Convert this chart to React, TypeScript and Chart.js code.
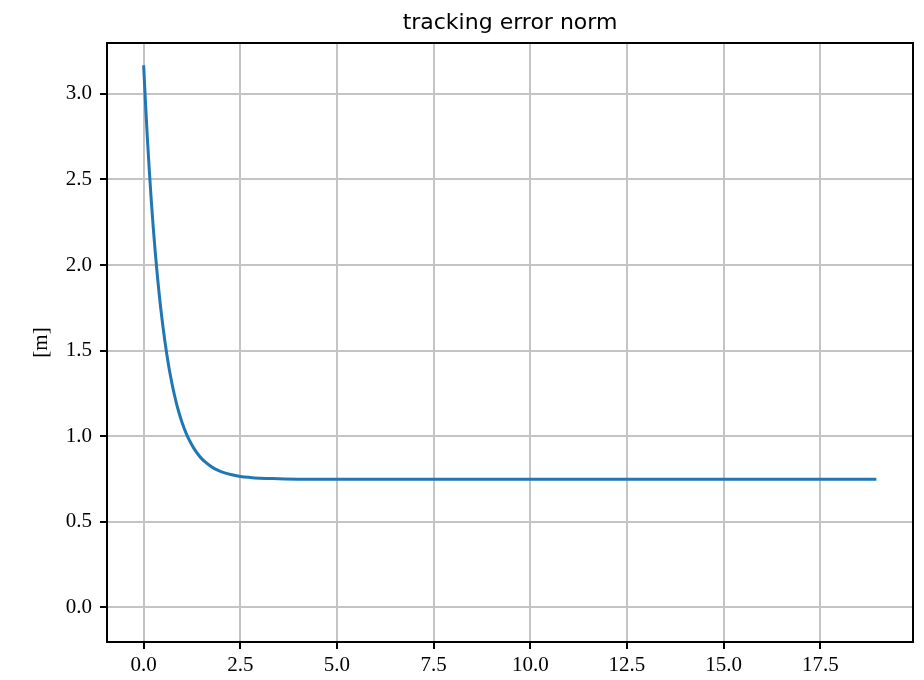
import React, { useEffect, useRef } from "react";
import { Chart, registerables } from "chart.js";

Chart.register(...registerables);

const TIME = [0, 0.05, 0.1, 0.15, 0.2, 0.25, 0.3, 0.35, 0.4, 0.45, 0.5, 0.55, 0.6, 0.65, 0.7, 0.75, 0.8, 0.85, 0.9, 0.95, 1.0, 1.1, 1.2, 1.3, 1.4, 1.5, 1.6, 1.7, 1.8, 1.9, 2.0, 2.25, 2.5, 2.75, 3.0, 3.25, 3.5, 4.0, 6.0, 10.0, 14.0, 18.95];
const ERROR_NORM = [3.168, 2.938, 2.729, 2.541, 2.37, 2.216, 2.076, 1.95, 1.835, 1.732, 1.638, 1.554, 1.477, 1.407, 1.345, 1.288, 1.237, 1.19, 1.148, 1.11, 1.075, 1.016, 0.968, 0.928, 0.895, 0.868, 0.847, 0.829, 0.814, 0.802, 0.792, 0.775, 0.764, 0.758, 0.754, 0.752, 0.75, 0.748, 0.748, 0.748, 0.748, 0.748];
const X_TICKS = [0, 2.5, 5, 7.5, 10, 12.5, 15, 17.5];
const Y_TICKS = [0, 0.5, 1, 1.5, 2, 2.5, 3];
const TITLE = "tracking error norm";
const Y_LABEL = "[m]";

const frame = {
  id: "frame",
  afterDraw(chart: any) {
    const { ctx, chartArea } = chart;
    ctx.save();
    ctx.strokeStyle = "#000";
    ctx.lineWidth = 2;
    ctx.strokeRect(chartArea.left, chartArea.top, chartArea.right - chartArea.left, chartArea.bottom - chartArea.top);
    ctx.fillStyle = "#000";
    ctx.font = "22px 'DejaVu Sans', sans-serif";
    ctx.textAlign = "center";
    ctx.textBaseline = "alphabetic";
    ctx.fillText(TITLE, (chartArea.left + chartArea.right) / 2, chartArea.top - 14);
    ctx.restore();
  },
};

export default function App() {
  const ref = useRef<HTMLCanvasElement | null>(null);
  useEffect(() => {
    if (!ref.current) return;
    const serif = "'Liberation Serif', 'DejaVu Serif', serif";
    const chart = new Chart(ref.current, {
      type: "scatter",
      data: {
        datasets: [
          {
            data: TIME.map((t, i) => ({ x: t, y: ERROR_NORM[i] })),
            showLine: true,
            borderColor: "#1f77b4",
            backgroundColor: "#1f77b4",
            borderWidth: 3,
            pointRadius: 0,
            cubicInterpolationMode: "monotone",
          },
        ],
      },
      options: {
        responsive: false,
        animation: false,
        layout: { padding: { left: 0, right: 11, top: 43, bottom: 0 } },
        plugins: {
          legend: { display: false },
          tooltip: { enabled: false },
          title: { display: false },
        },
        scales: {
          x: {
            type: "linear",
            min: -0.9475,
            max: 19.8975,
            afterBuildTicks: (axis: any) => {
              axis.ticks = X_TICKS.map((v) => ({ value: v }));
            },
            afterFit: (axis: any) => {
              axis.height = 38;
            },
            grid: { color: "#c4c4c4", lineWidth: 2, tickColor: "#000", tickLength: 7, drawTicks: true },
            border: { display: false },
            ticks: {
              color: "#000",
              font: { family: serif, size: 21 },
              padding: 4,
              maxRotation: 0,
              callback: (v: any) => Number(v).toFixed(1),
            },
          },
          y: {
            type: "linear",
            min: -0.204,
            max: 3.298,
            afterBuildTicks: (axis: any) => {
              axis.ticks = Y_TICKS.map((v) => ({ value: v }));
            },
            afterFit: (axis: any) => {
              axis.width = 107;
            },
            grid: { color: "#c4c4c4", lineWidth: 2, tickColor: "#000", tickLength: 7, drawTicks: true },
            border: { display: false },
            ticks: {
              color: "#000",
              font: { family: serif, size: 21 },
              padding: 8,
              callback: (v: any) => Number(v).toFixed(1),
            },
            title: {
              display: true,
              text: Y_LABEL,
              color: "#000",
              font: { family: serif, size: 21 },
              padding: { top: 29, bottom: 0 },
            },
          },
        },
      },
      plugins: [frame],
    });
    return () => chart.destroy();
  }, []);
  return (
    <div style={{ position: "absolute", left: 0, top: 0, width: 924, height: 680, background: "#fff" }}>
      <canvas ref={ref} width={924} height={680} style={{ display: "block" }} />
    </div>
  );
}
